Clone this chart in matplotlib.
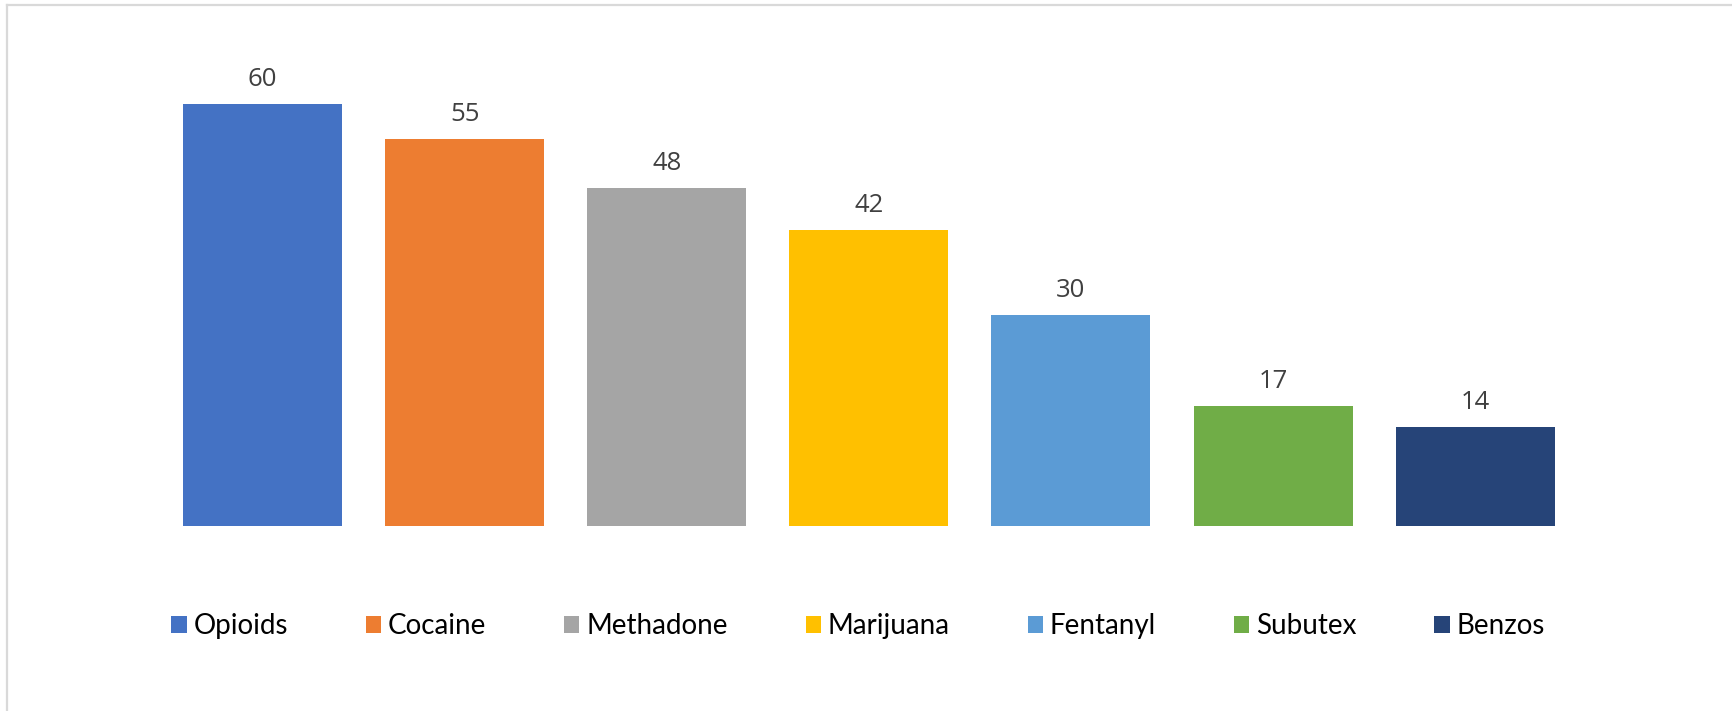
import matplotlib.pyplot as plt
from matplotlib.lines import Line2D

# data
drugs = ['Opioids', 'Cocaine', 'Methadone', 'Marijuana', 'Fentanyl', 'Subutex', 'Benzos']
counts = [60, 55, 48, 42, 30, 17, 14]
colors = ['#4472C4', '#ED7D31', '#A5A5A5', '#FFC000', '#5B9BD5', '#70AD47', '#264478']

W, H = 1732, 711
fig = plt.figure(figsize=(W / 100, H / 100), dpi=100)
fig.patch.set_facecolor('white')

# axes placed so bars land where they do in the source chart
ax = fig.add_axes([161.5 / W, 185 / H, 1414.7 / W, 492.8 / H])
xs = list(range(len(drugs)))
bars = ax.bar(xs, counts, width=0.787, color=colors, label=drugs)
ax.set_xlim(-0.5, len(drugs) - 0.5)
ax.set_ylim(0, 70)
ax.axis('off')

for x, v in zip(xs, counts):
    ax.annotate(str(v), (x, v), xytext=(0, 13), textcoords='offset points',
                ha='center', va='baseline', fontsize=18.5, color='#404040',
                family=['Open Sans', 'DejaVu Sans'])

leg = fig.legend(bars, drugs, loc='center', bbox_to_anchor=(0.4955, 1 - 626 / H),
                 ncol=7, frameon=False, handlelength=0.55, handleheight=0.55,
                 handletextpad=0.25, columnspacing=2.8,
                 prop={'family': ['Lato', 'DejaVu Sans'], 'size': 20})

# light grey frame edges (left and top only, as in the cropped screenshot)
fig.add_artist(Line2D([7 / W, 7 / W], [0, 1 - 5 / H], color='#d9d9d9', lw=1.6,
                      transform=fig.transFigure))
fig.add_artist(Line2D([7 / W, 1], [1 - 5 / H, 1 - 5 / H], color='#d9d9d9', lw=1.6,
                      transform=fig.transFigure))

fig.savefig('out.png', dpi=100)
